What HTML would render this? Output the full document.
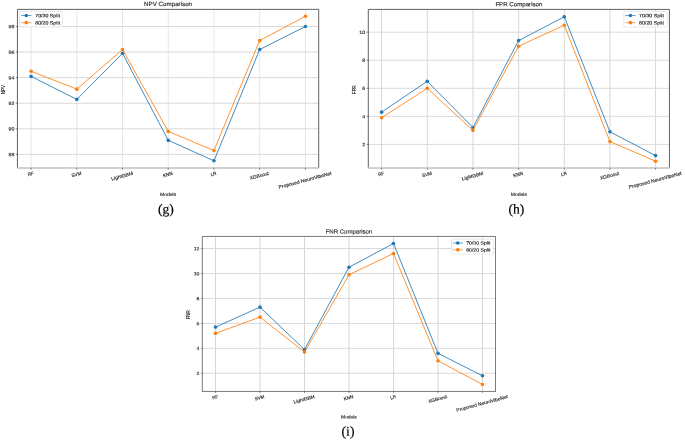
<!DOCTYPE html>
<html><head><meta charset="utf-8"><style>
html,body{margin:0;padding:0;background:#fff;}
svg{display:block;filter:blur(0.35px);}
text{font-family:"Liberation Sans",sans-serif;fill:#262626;stroke:#262626;stroke-width:0.14px;}
text.ser{font-family:"Liberation Serif",serif;fill:#000;stroke:#000;stroke-width:0.18px;}
</style></head><body>
<svg width="685" height="440" viewBox="0 0 685 440">
<rect width="685" height="440" fill="#fff"/>
<line x1="31.1" y1="9.38" x2="31.1" y2="168" stroke="#e6e6e6" stroke-width="1"/>
<line x1="76.82" y1="9.38" x2="76.82" y2="168" stroke="#e6e6e6" stroke-width="1"/>
<line x1="122.53" y1="9.38" x2="122.53" y2="168" stroke="#e6e6e6" stroke-width="1"/>
<line x1="168.25" y1="9.38" x2="168.25" y2="168" stroke="#e6e6e6" stroke-width="1"/>
<line x1="213.97" y1="9.38" x2="213.97" y2="168" stroke="#e6e6e6" stroke-width="1"/>
<line x1="259.68" y1="9.38" x2="259.68" y2="168" stroke="#e6e6e6" stroke-width="1"/>
<line x1="305.4" y1="9.38" x2="305.4" y2="168" stroke="#e6e6e6" stroke-width="1"/>
<line x1="17.45" y1="154.4" x2="318.7" y2="154.4" stroke="#dadada" stroke-width="1"/>
<line x1="17.45" y1="128.82" x2="318.7" y2="128.82" stroke="#dadada" stroke-width="1"/>
<line x1="17.45" y1="103.24" x2="318.7" y2="103.24" stroke="#dadada" stroke-width="1"/>
<line x1="17.45" y1="77.66" x2="318.7" y2="77.66" stroke="#dadada" stroke-width="1"/>
<line x1="17.45" y1="52.08" x2="318.7" y2="52.08" stroke="#dadada" stroke-width="1"/>
<line x1="17.45" y1="26.5" x2="318.7" y2="26.5" stroke="#dadada" stroke-width="1"/>
<polyline points="31.1,76.38 76.82,99.4 122.53,53.36 168.25,140.33 213.97,160.8 259.68,49.52 305.4,26.5" fill="none" stroke="#1f77b4" stroke-width="0.85" stroke-linejoin="round"/>
<circle cx="31.1" cy="76.38" r="1.8" fill="#1f77b4"/>
<circle cx="76.82" cy="99.4" r="1.8" fill="#1f77b4"/>
<circle cx="122.53" cy="53.36" r="1.8" fill="#1f77b4"/>
<circle cx="168.25" cy="140.33" r="1.8" fill="#1f77b4"/>
<circle cx="213.97" cy="160.8" r="1.8" fill="#1f77b4"/>
<circle cx="259.68" cy="49.52" r="1.8" fill="#1f77b4"/>
<circle cx="305.4" cy="26.5" r="1.8" fill="#1f77b4"/>
<polyline points="31.1,71.27 76.82,89.17 122.53,49.52 168.25,131.38 213.97,150.56 259.68,40.57 305.4,16.27" fill="none" stroke="#ff7f0e" stroke-width="0.85" stroke-linejoin="round"/>
<circle cx="31.1" cy="71.27" r="1.8" fill="#ff7f0e"/>
<circle cx="76.82" cy="89.17" r="1.8" fill="#ff7f0e"/>
<circle cx="122.53" cy="49.52" r="1.8" fill="#ff7f0e"/>
<circle cx="168.25" cy="131.38" r="1.8" fill="#ff7f0e"/>
<circle cx="213.97" cy="150.56" r="1.8" fill="#ff7f0e"/>
<circle cx="259.68" cy="40.57" r="1.8" fill="#ff7f0e"/>
<circle cx="305.4" cy="16.27" r="1.8" fill="#ff7f0e"/>
<path d="M17.45,168 V9.38 H318.7 V168" fill="none" stroke="#3a3a3a" stroke-width="0.8"/>
<line x1="17.05" y1="168" x2="319.1" y2="168" stroke="#c2c2c2" stroke-width="1.5"/>
<line x1="31.1" y1="168" x2="31.1" y2="169.7" stroke="#3a3a3a" stroke-width="0.6"/>
<line x1="76.82" y1="168" x2="76.82" y2="169.7" stroke="#3a3a3a" stroke-width="0.6"/>
<line x1="122.53" y1="168" x2="122.53" y2="169.7" stroke="#3a3a3a" stroke-width="0.6"/>
<line x1="168.25" y1="168" x2="168.25" y2="169.7" stroke="#3a3a3a" stroke-width="0.6"/>
<line x1="213.97" y1="168" x2="213.97" y2="169.7" stroke="#3a3a3a" stroke-width="0.6"/>
<line x1="259.68" y1="168" x2="259.68" y2="169.7" stroke="#3a3a3a" stroke-width="0.6"/>
<line x1="305.4" y1="168" x2="305.4" y2="169.7" stroke="#3a3a3a" stroke-width="0.6"/>
<line x1="15.75" y1="154.4" x2="17.45" y2="154.4" stroke="#3a3a3a" stroke-width="0.6"/>
<line x1="15.75" y1="128.82" x2="17.45" y2="128.82" stroke="#3a3a3a" stroke-width="0.6"/>
<line x1="15.75" y1="103.24" x2="17.45" y2="103.24" stroke="#3a3a3a" stroke-width="0.6"/>
<line x1="15.75" y1="77.66" x2="17.45" y2="77.66" stroke="#3a3a3a" stroke-width="0.6"/>
<line x1="15.75" y1="52.08" x2="17.45" y2="52.08" stroke="#3a3a3a" stroke-width="0.6"/>
<line x1="15.75" y1="26.5" x2="17.45" y2="26.5" stroke="#3a3a3a" stroke-width="0.6"/>
<text transform="translate(14.35,156.2) rotate(0.05)" font-size="4.78" text-anchor="end" textLength="5.85" lengthAdjust="spacingAndGlyphs">88</text>
<text transform="translate(14.35,130.62) rotate(0.05)" font-size="4.78" text-anchor="end" textLength="5.85" lengthAdjust="spacingAndGlyphs">90</text>
<text transform="translate(14.35,105.04) rotate(0.05)" font-size="4.78" text-anchor="end" textLength="5.85" lengthAdjust="spacingAndGlyphs">92</text>
<text transform="translate(14.35,79.46) rotate(0.05)" font-size="4.78" text-anchor="end" textLength="5.85" lengthAdjust="spacingAndGlyphs">94</text>
<text transform="translate(14.35,53.88) rotate(0.05)" font-size="4.78" text-anchor="end" textLength="5.85" lengthAdjust="spacingAndGlyphs">96</text>
<text transform="translate(14.35,28.3) rotate(0.05)" font-size="4.78" text-anchor="end" textLength="5.85" lengthAdjust="spacingAndGlyphs">98</text>
<text transform="translate(31.1,175.5) rotate(-15.0)" font-size="4.78" text-anchor="middle" textLength="5.84" lengthAdjust="spacingAndGlyphs">RF</text>
<text transform="translate(76.82,176.04) rotate(-15.0)" font-size="4.78" text-anchor="middle" textLength="10.04" lengthAdjust="spacingAndGlyphs">SVM</text>
<text transform="translate(122.53,177.61) rotate(-15.0)" font-size="4.78" text-anchor="middle" textLength="22.17" lengthAdjust="spacingAndGlyphs">LightGBM</text>
<text transform="translate(168.25,176.02) rotate(-15.0)" font-size="4.78" text-anchor="middle" textLength="9.9" lengthAdjust="spacingAndGlyphs">KNN</text>
<text transform="translate(213.97,175.48) rotate(-15.0)" font-size="4.78" text-anchor="middle" textLength="5.76" lengthAdjust="spacingAndGlyphs">LR</text>
<text transform="translate(259.68,177.29) rotate(-15.0)" font-size="4.78" text-anchor="middle" textLength="19.7" lengthAdjust="spacingAndGlyphs">XGBoost</text>
<text transform="translate(305.4,181.8) rotate(-15.0)" font-size="4.78" text-anchor="middle" textLength="54.58" lengthAdjust="spacingAndGlyphs">Proposed NeuroVibeNet</text>
<text transform="translate(168.07,5.9) rotate(0.05)" font-size="5.98" text-anchor="middle" textLength="47.96" lengthAdjust="spacingAndGlyphs">NPV Comparison</text>
<text transform="translate(168.07,195.9) rotate(0.05)" font-size="4.78" text-anchor="middle" textLength="16.21" lengthAdjust="spacingAndGlyphs">Models</text>
<text transform="translate(5,89.59) rotate(-90)" font-size="4.78" text-anchor="middle" textLength="9.36" lengthAdjust="spacingAndGlyphs">NPV</text>
<rect x="19.5" y="11.4" width="43" height="15.6" rx="1.2" fill="#fff" fill-opacity="0.8" stroke="#dadada" stroke-width="0.6"/>
<line x1="21.1" y1="15.55" x2="31.5" y2="15.55" stroke="#1f77b4" stroke-width="0.7"/>
<circle cx="26.3" cy="15.55" r="1.8" fill="#1f77b4"/>
<text transform="translate(35.2,17.3) rotate(0.05)" font-size="4.78" text-anchor="start" textLength="24.92" lengthAdjust="spacingAndGlyphs">70/30 Split</text>
<line x1="21.1" y1="22.65" x2="31.5" y2="22.65" stroke="#ff7f0e" stroke-width="0.7"/>
<circle cx="26.3" cy="22.65" r="1.8" fill="#ff7f0e"/>
<text transform="translate(35.2,24.4) rotate(0.05)" font-size="4.78" text-anchor="start" textLength="24.92" lengthAdjust="spacingAndGlyphs">80/20 Split</text>
<text transform="translate(165.8,213.6) rotate(0.05)" class="ser" font-size="13.6" text-anchor="middle">(g)</text>
<line x1="381.6" y1="9.4" x2="381.6" y2="168" stroke="#d8d8d8" stroke-width="1"/>
<line x1="427.27" y1="9.4" x2="427.27" y2="168" stroke="#d8d8d8" stroke-width="1"/>
<line x1="472.93" y1="9.4" x2="472.93" y2="168" stroke="#d8d8d8" stroke-width="1"/>
<line x1="518.6" y1="9.4" x2="518.6" y2="168" stroke="#d8d8d8" stroke-width="1"/>
<line x1="564.27" y1="9.4" x2="564.27" y2="168" stroke="#d8d8d8" stroke-width="1"/>
<line x1="609.93" y1="9.4" x2="609.93" y2="168" stroke="#d8d8d8" stroke-width="1"/>
<line x1="655.6" y1="9.4" x2="655.6" y2="168" stroke="#d8d8d8" stroke-width="1"/>
<line x1="368.3" y1="144.4" x2="669.45" y2="144.4" stroke="#dadada" stroke-width="1"/>
<line x1="368.3" y1="116.35" x2="669.45" y2="116.35" stroke="#dadada" stroke-width="1"/>
<line x1="368.3" y1="88.3" x2="669.45" y2="88.3" stroke="#dadada" stroke-width="1"/>
<line x1="368.3" y1="60.25" x2="669.45" y2="60.25" stroke="#dadada" stroke-width="1"/>
<line x1="368.3" y1="32.2" x2="669.45" y2="32.2" stroke="#dadada" stroke-width="1"/>
<polyline points="381.6,112.14 427.27,81.29 472.93,127.57 518.6,40.61 564.27,16.77 609.93,131.78 655.6,155.62" fill="none" stroke="#1f77b4" stroke-width="0.85" stroke-linejoin="round"/>
<circle cx="381.6" cy="112.14" r="1.8" fill="#1f77b4"/>
<circle cx="427.27" cy="81.29" r="1.8" fill="#1f77b4"/>
<circle cx="472.93" cy="127.57" r="1.8" fill="#1f77b4"/>
<circle cx="518.6" cy="40.61" r="1.8" fill="#1f77b4"/>
<circle cx="564.27" cy="16.77" r="1.8" fill="#1f77b4"/>
<circle cx="609.93" cy="131.78" r="1.8" fill="#1f77b4"/>
<circle cx="655.6" cy="155.62" r="1.8" fill="#1f77b4"/>
<polyline points="381.6,117.75 427.27,88.3 472.93,130.38 518.6,46.23 564.27,25.19 609.93,141.59 655.6,161.23" fill="none" stroke="#ff7f0e" stroke-width="0.85" stroke-linejoin="round"/>
<circle cx="381.6" cy="117.75" r="1.8" fill="#ff7f0e"/>
<circle cx="427.27" cy="88.3" r="1.8" fill="#ff7f0e"/>
<circle cx="472.93" cy="130.38" r="1.8" fill="#ff7f0e"/>
<circle cx="518.6" cy="46.23" r="1.8" fill="#ff7f0e"/>
<circle cx="564.27" cy="25.19" r="1.8" fill="#ff7f0e"/>
<circle cx="609.93" cy="141.59" r="1.8" fill="#ff7f0e"/>
<circle cx="655.6" cy="161.23" r="1.8" fill="#ff7f0e"/>
<path d="M368.3,168 V9.4 H669.45 V168" fill="none" stroke="#3a3a3a" stroke-width="0.8"/>
<line x1="367.9" y1="168" x2="669.85" y2="168" stroke="#c2c2c2" stroke-width="1.5"/>
<line x1="381.6" y1="168" x2="381.6" y2="169.7" stroke="#3a3a3a" stroke-width="0.6"/>
<line x1="427.27" y1="168" x2="427.27" y2="169.7" stroke="#3a3a3a" stroke-width="0.6"/>
<line x1="472.93" y1="168" x2="472.93" y2="169.7" stroke="#3a3a3a" stroke-width="0.6"/>
<line x1="518.6" y1="168" x2="518.6" y2="169.7" stroke="#3a3a3a" stroke-width="0.6"/>
<line x1="564.27" y1="168" x2="564.27" y2="169.7" stroke="#3a3a3a" stroke-width="0.6"/>
<line x1="609.93" y1="168" x2="609.93" y2="169.7" stroke="#3a3a3a" stroke-width="0.6"/>
<line x1="655.6" y1="168" x2="655.6" y2="169.7" stroke="#3a3a3a" stroke-width="0.6"/>
<line x1="366.6" y1="144.4" x2="368.3" y2="144.4" stroke="#3a3a3a" stroke-width="0.6"/>
<line x1="366.6" y1="116.35" x2="368.3" y2="116.35" stroke="#3a3a3a" stroke-width="0.6"/>
<line x1="366.6" y1="88.3" x2="368.3" y2="88.3" stroke="#3a3a3a" stroke-width="0.6"/>
<line x1="366.6" y1="60.25" x2="368.3" y2="60.25" stroke="#3a3a3a" stroke-width="0.6"/>
<line x1="366.6" y1="32.2" x2="368.3" y2="32.2" stroke="#3a3a3a" stroke-width="0.6"/>
<text transform="translate(365.2,146.2) rotate(0.05)" font-size="4.78" text-anchor="end" textLength="2.93" lengthAdjust="spacingAndGlyphs">2</text>
<text transform="translate(365.2,118.15) rotate(0.05)" font-size="4.78" text-anchor="end" textLength="2.93" lengthAdjust="spacingAndGlyphs">4</text>
<text transform="translate(365.2,90.1) rotate(0.05)" font-size="4.78" text-anchor="end" textLength="2.93" lengthAdjust="spacingAndGlyphs">6</text>
<text transform="translate(365.2,62.05) rotate(0.05)" font-size="4.78" text-anchor="end" textLength="2.93" lengthAdjust="spacingAndGlyphs">8</text>
<text transform="translate(365.2,34) rotate(0.05)" font-size="4.78" text-anchor="end" textLength="5.85" lengthAdjust="spacingAndGlyphs">10</text>
<text transform="translate(381.6,175.5) rotate(-15.0)" font-size="4.78" text-anchor="middle" textLength="5.84" lengthAdjust="spacingAndGlyphs">RF</text>
<text transform="translate(427.27,176.04) rotate(-15.0)" font-size="4.78" text-anchor="middle" textLength="10.04" lengthAdjust="spacingAndGlyphs">SVM</text>
<text transform="translate(472.93,177.61) rotate(-15.0)" font-size="4.78" text-anchor="middle" textLength="22.17" lengthAdjust="spacingAndGlyphs">LightGBM</text>
<text transform="translate(518.6,176.02) rotate(-15.0)" font-size="4.78" text-anchor="middle" textLength="9.9" lengthAdjust="spacingAndGlyphs">KNN</text>
<text transform="translate(564.27,175.48) rotate(-15.0)" font-size="4.78" text-anchor="middle" textLength="5.76" lengthAdjust="spacingAndGlyphs">LR</text>
<text transform="translate(609.93,177.29) rotate(-15.0)" font-size="4.78" text-anchor="middle" textLength="19.7" lengthAdjust="spacingAndGlyphs">XGBoost</text>
<text transform="translate(655.6,181.8) rotate(-15.0)" font-size="4.78" text-anchor="middle" textLength="54.58" lengthAdjust="spacingAndGlyphs">Proposed NeuroVibeNet</text>
<text transform="translate(518.88,6.2) rotate(0.05)" font-size="5.98" text-anchor="middle" textLength="47.02" lengthAdjust="spacingAndGlyphs">FPR Comparison</text>
<text transform="translate(518.88,195.9) rotate(0.05)" font-size="4.78" text-anchor="middle" textLength="16.21" lengthAdjust="spacingAndGlyphs">Models</text>
<text transform="translate(355.85,89.6) rotate(-90)" font-size="4.78" text-anchor="middle" textLength="8.62" lengthAdjust="spacingAndGlyphs">FPR</text>
<rect x="623.8" y="11.4" width="43.5" height="15.6" rx="1.2" fill="#fff" fill-opacity="0.8" stroke="#dadada" stroke-width="0.6"/>
<line x1="625.2" y1="15.55" x2="635.6" y2="15.55" stroke="#1f77b4" stroke-width="0.7"/>
<circle cx="630.4" cy="15.55" r="1.8" fill="#1f77b4"/>
<text transform="translate(639.1,17.3) rotate(0.05)" font-size="4.78" text-anchor="start" textLength="24.92" lengthAdjust="spacingAndGlyphs">70/30 Split</text>
<line x1="625.2" y1="22.65" x2="635.6" y2="22.65" stroke="#ff7f0e" stroke-width="0.7"/>
<circle cx="630.4" cy="22.65" r="1.8" fill="#ff7f0e"/>
<text transform="translate(639.1,24.4) rotate(0.05)" font-size="4.78" text-anchor="start" textLength="24.92" lengthAdjust="spacingAndGlyphs">80/20 Split</text>
<text transform="translate(516.4,213.6) rotate(0.05)" class="ser" font-size="13.6" text-anchor="middle">(h)</text>
<line x1="215.5" y1="236.45" x2="215.5" y2="391.45" stroke="#d6d6d6" stroke-width="1"/>
<line x1="260" y1="236.45" x2="260" y2="391.45" stroke="#d6d6d6" stroke-width="1"/>
<line x1="304.5" y1="236.45" x2="304.5" y2="391.45" stroke="#d6d6d6" stroke-width="1"/>
<line x1="349" y1="236.45" x2="349" y2="391.45" stroke="#d6d6d6" stroke-width="1"/>
<line x1="393.5" y1="236.45" x2="393.5" y2="391.45" stroke="#d6d6d6" stroke-width="1"/>
<line x1="438" y1="236.45" x2="438" y2="391.45" stroke="#d6d6d6" stroke-width="1"/>
<line x1="482.5" y1="236.45" x2="482.5" y2="391.45" stroke="#d6d6d6" stroke-width="1"/>
<line x1="202.35" y1="373.3" x2="495.5" y2="373.3" stroke="#dadada" stroke-width="1"/>
<line x1="202.35" y1="348.34" x2="495.5" y2="348.34" stroke="#dadada" stroke-width="1"/>
<line x1="202.35" y1="323.38" x2="495.5" y2="323.38" stroke="#dadada" stroke-width="1"/>
<line x1="202.35" y1="298.42" x2="495.5" y2="298.42" stroke="#dadada" stroke-width="1"/>
<line x1="202.35" y1="273.46" x2="495.5" y2="273.46" stroke="#dadada" stroke-width="1"/>
<line x1="202.35" y1="248.5" x2="495.5" y2="248.5" stroke="#dadada" stroke-width="1"/>
<polyline points="215.5,327.12 260,307.16 304.5,349.59 349,267.22 393.5,243.51 438,353.33 482.5,375.8" fill="none" stroke="#1f77b4" stroke-width="0.85" stroke-linejoin="round"/>
<circle cx="215.5" cy="327.12" r="1.8" fill="#1f77b4"/>
<circle cx="260" cy="307.16" r="1.8" fill="#1f77b4"/>
<circle cx="304.5" cy="349.59" r="1.8" fill="#1f77b4"/>
<circle cx="349" cy="267.22" r="1.8" fill="#1f77b4"/>
<circle cx="393.5" cy="243.51" r="1.8" fill="#1f77b4"/>
<circle cx="438" cy="353.33" r="1.8" fill="#1f77b4"/>
<circle cx="482.5" cy="375.8" r="1.8" fill="#1f77b4"/>
<polyline points="215.5,333.36 260,317.14 304.5,352.08 349,274.71 393.5,253.49 438,360.82 482.5,384.53" fill="none" stroke="#ff7f0e" stroke-width="0.85" stroke-linejoin="round"/>
<circle cx="215.5" cy="333.36" r="1.8" fill="#ff7f0e"/>
<circle cx="260" cy="317.14" r="1.8" fill="#ff7f0e"/>
<circle cx="304.5" cy="352.08" r="1.8" fill="#ff7f0e"/>
<circle cx="349" cy="274.71" r="1.8" fill="#ff7f0e"/>
<circle cx="393.5" cy="253.49" r="1.8" fill="#ff7f0e"/>
<circle cx="438" cy="360.82" r="1.8" fill="#ff7f0e"/>
<circle cx="482.5" cy="384.53" r="1.8" fill="#ff7f0e"/>
<path d="M202.35,391.45 V236.45 H495.5 V391.45" fill="none" stroke="#5a5a5a" stroke-width="0.8"/>
<line x1="201.95" y1="391.45" x2="495.9" y2="391.45" stroke="#5a5a5a" stroke-width="0.8"/>
<line x1="215.5" y1="391.45" x2="215.5" y2="393.1" stroke="#5a5a5a" stroke-width="0.6"/>
<line x1="260" y1="391.45" x2="260" y2="393.1" stroke="#5a5a5a" stroke-width="0.6"/>
<line x1="304.5" y1="391.45" x2="304.5" y2="393.1" stroke="#5a5a5a" stroke-width="0.6"/>
<line x1="349" y1="391.45" x2="349" y2="393.1" stroke="#5a5a5a" stroke-width="0.6"/>
<line x1="393.5" y1="391.45" x2="393.5" y2="393.1" stroke="#5a5a5a" stroke-width="0.6"/>
<line x1="438" y1="391.45" x2="438" y2="393.1" stroke="#5a5a5a" stroke-width="0.6"/>
<line x1="482.5" y1="391.45" x2="482.5" y2="393.1" stroke="#5a5a5a" stroke-width="0.6"/>
<line x1="200.7" y1="373.3" x2="202.35" y2="373.3" stroke="#5a5a5a" stroke-width="0.6"/>
<line x1="200.7" y1="348.34" x2="202.35" y2="348.34" stroke="#5a5a5a" stroke-width="0.6"/>
<line x1="200.7" y1="323.38" x2="202.35" y2="323.38" stroke="#5a5a5a" stroke-width="0.6"/>
<line x1="200.7" y1="298.42" x2="202.35" y2="298.42" stroke="#5a5a5a" stroke-width="0.6"/>
<line x1="200.7" y1="273.46" x2="202.35" y2="273.46" stroke="#5a5a5a" stroke-width="0.6"/>
<line x1="200.7" y1="248.5" x2="202.35" y2="248.5" stroke="#5a5a5a" stroke-width="0.6"/>
<text transform="translate(199.33,375.05) rotate(0.05)" font-size="4.65" text-anchor="end" textLength="2.85" lengthAdjust="spacingAndGlyphs">2</text>
<text transform="translate(199.33,350.09) rotate(0.05)" font-size="4.65" text-anchor="end" textLength="2.85" lengthAdjust="spacingAndGlyphs">4</text>
<text transform="translate(199.33,325.13) rotate(0.05)" font-size="4.65" text-anchor="end" textLength="2.85" lengthAdjust="spacingAndGlyphs">6</text>
<text transform="translate(199.33,300.17) rotate(0.05)" font-size="4.65" text-anchor="end" textLength="2.85" lengthAdjust="spacingAndGlyphs">8</text>
<text transform="translate(199.33,275.21) rotate(0.05)" font-size="4.65" text-anchor="end" textLength="5.7" lengthAdjust="spacingAndGlyphs">10</text>
<text transform="translate(199.33,250.25) rotate(0.05)" font-size="4.65" text-anchor="end" textLength="5.7" lengthAdjust="spacingAndGlyphs">12</text>
<text transform="translate(215.5,398.74) rotate(-15.0)" font-size="4.65" text-anchor="middle" textLength="5.68" lengthAdjust="spacingAndGlyphs">RF</text>
<text transform="translate(260,399.27) rotate(-15.0)" font-size="4.65" text-anchor="middle" textLength="9.76" lengthAdjust="spacingAndGlyphs">SVM</text>
<text transform="translate(304.5,400.8) rotate(-15.0)" font-size="4.65" text-anchor="middle" textLength="21.57" lengthAdjust="spacingAndGlyphs">LightGBM</text>
<text transform="translate(349,399.25) rotate(-15.0)" font-size="4.65" text-anchor="middle" textLength="9.63" lengthAdjust="spacingAndGlyphs">KNN</text>
<text transform="translate(393.5,398.73) rotate(-15.0)" font-size="4.65" text-anchor="middle" textLength="5.6" lengthAdjust="spacingAndGlyphs">LR</text>
<text transform="translate(438,400.49) rotate(-15.0)" font-size="4.65" text-anchor="middle" textLength="19.17" lengthAdjust="spacingAndGlyphs">XGBoost</text>
<text transform="translate(482.5,404.88) rotate(-15.0)" font-size="4.65" text-anchor="middle" textLength="53.11" lengthAdjust="spacingAndGlyphs">Proposed NeuroVibeNet</text>
<text transform="translate(348.93,233.5) rotate(0.05)" font-size="5.82" text-anchor="middle" textLength="46.57" lengthAdjust="spacingAndGlyphs">FNR Comparison</text>
<text transform="translate(348.93,418.5) rotate(0.05)" font-size="4.65" text-anchor="middle" textLength="15.77" lengthAdjust="spacingAndGlyphs">Models</text>
<text transform="translate(190.24,314.85) rotate(-90)" font-size="4.65" text-anchor="middle" textLength="9.03" lengthAdjust="spacingAndGlyphs">FNR</text>
<rect x="451.5" y="239.2" width="42.1" height="15" rx="1.2" fill="#fff" fill-opacity="0.8" stroke="#dadada" stroke-width="0.6"/>
<line x1="452.74" y1="243" x2="462.86" y2="243" stroke="#1f77b4" stroke-width="0.7"/>
<circle cx="457.8" cy="243" r="1.8" fill="#1f77b4"/>
<text transform="translate(466.2,244.6) rotate(0.05)" font-size="4.65" text-anchor="start" textLength="24.25" lengthAdjust="spacingAndGlyphs">70/30 Split</text>
<line x1="452.74" y1="249.85" x2="462.86" y2="249.85" stroke="#ff7f0e" stroke-width="0.7"/>
<circle cx="457.8" cy="249.85" r="1.8" fill="#ff7f0e"/>
<text transform="translate(466.2,251.45) rotate(0.05)" font-size="4.65" text-anchor="start" textLength="24.25" lengthAdjust="spacingAndGlyphs">80/20 Split</text>
<text transform="translate(348,435.8) rotate(0.05)" class="ser" font-size="13.6" text-anchor="middle">(i)</text>
</svg>
</body></html>
